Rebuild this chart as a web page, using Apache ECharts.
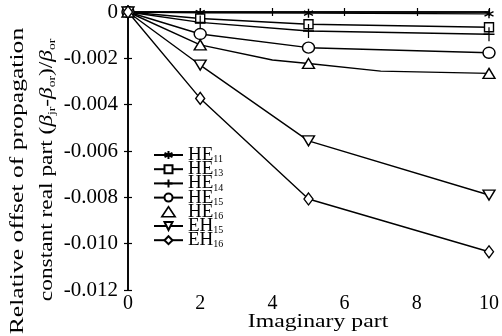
<!DOCTYPE html>
<html>
<head>
<meta charset="utf-8">
<script src="https://cdn.jsdelivr.net/npm/echarts@6/dist/echarts.min.js"></script>
<style>html,body{margin:0;padding:0;background:#fff;}#c{width:502px;height:336px;}</style>
</head>
<body>
<div id="c"></div>
<script>
// ---- data ----
var seriesNames = ['HE11', 'HE13', 'HE14', 'HE15', 'HE16', 'EH15', 'EH16'];
var xValues = [0, 2, 5, 10];
var HE11 = [0, -0.00003, -0.00005, -0.00008];
var HE13 = [0, -0.00028, -0.00053, -0.00066];
var HE14 = [0, -0.00045, -0.00082, -0.00096];
var HE15 = [0, -0.00095, -0.00154, -0.00176];
var HE16x = [0, 2, 4, 5, 7, 10];
var HE16 = [0, -0.00142, -0.00207, -0.00222, -0.00255, -0.00265];
var HE16marked = [true, true, false, true, false, true];
var EH15 = [0, -0.00229, -0.00556, -0.0079];
var EH16 = [0, -0.00373, -0.00807, -0.01035];
var xTicks = [0, 2, 4, 6, 8, 10];
var yMin = -0.012, yMax = 0, yStep = 0.002;

var FONT = '"Liberation Serif", "Times New Roman", Times, serif';
var S = {
  asterisk: 'path://M0,-5L0,5M-4.33,-2.5L4.33,2.5M-4.33,2.5L4.33,-2.5',
  rect: 'path://M-1,-1L1,-1L1,1L-1,1Z',
  plus: 'path://M0,-1L0,1M-1,0L1,0',
  circle: 'path://M-1,0A1,1 0 1,0 1,0A1,1 0 1,0 -1,0Z',
  tri: 'path://M0,-1L1,0.8L-1,0.8Z',
  dtri: 'path://M-1,-0.8L1,-0.8L0,1Z',
  diamond: 'path://M0,-1L1,0L0,1L-1,0Z'
};

function pairs(xs, ys) { return xs.map(function (x, i) { return [x, ys[i]]; }); }

function mk(name, data, symbol, size) {
  return {
    name: name, type: 'line', data: data,
    symbol: symbol, symbolSize: size, showSymbol: true,
    lineStyle: { color: '#000', width: 1.4 },
    itemStyle: { color: '#fff', borderColor: '#000', borderWidth: 1.4 },
    emphasis: { disabled: true }, animation: false, z: 3
  };
}

var he16Data = HE16x.map(function (x, i) {
  var d = { value: [x, HE16[i]] };
  if (!HE16marked[i]) d.symbol = 'none';
  return d;
});

var series = [
  mk('HE11', pairs(xValues, HE11), S.asterisk, 9),
  mk('HE13', pairs(xValues, HE13), S.rect, 9),
  mk('HE14', pairs(xValues, HE14), S.plus, [11, 14]),
  mk('HE15', pairs(xValues, HE15), S.circle, [12, 11]),
  mk('HE16', he16Data, S.tri, [12, 10]),
  mk('EH15', pairs(xValues, EH15), S.dtri, [12, 10]),
  mk('EH16', pairs(xValues, EH16), S.diamond, [9, 12])
];

var axisCommon = {
  axisLine: { show: true, lineStyle: { color: '#000', width: 1.6 } },
  axisTick: { show: true, inside: true, length: 4, lineStyle: { color: '#000', width: 1.2 } },
  splitLine: { show: false }
};

var chart = echarts.init(document.getElementById('c'), null, { renderer: 'canvas' });
chart.setOption({
  backgroundColor: '#fff',
  animation: false,
  grid: { left: 128, right: 12, top: 12, bottom: 46 },
  xAxis: [
    Object.assign({
      type: 'value', min: xTicks[0], max: xTicks[xTicks.length - 1], interval: 2, position: 'bottom',
      axisLabel: { color: '#000', fontFamily: FONT, fontSize: 20, margin: 4 }
    }, axisCommon),
    Object.assign({
      type: 'value', min: xTicks[0], max: xTicks[xTicks.length - 1], interval: 2, position: 'top',
      axisLabel: { show: false }
    }, axisCommon)
  ],
  yAxis: [
    Object.assign({
      type: 'value', min: yMin, max: yMax, interval: yStep, position: 'left',
      axisLabel: {
        color: '#000', fontFamily: FONT, fontSize: 21, margin: 10,
        formatter: function (v) { return Math.abs(v) < 1e-12 ? '0' : v.toFixed(3); }
      }
    }, axisCommon),
    Object.assign({
      type: 'value', min: yMin, max: yMax, interval: yStep, position: 'right',
      axisLabel: { show: false }
    }, axisCommon)
  ],
  legend: {
    orient: 'vertical', left: 153, top: 145, padding: 0,
    itemWidth: 29, itemHeight: 10, itemGap: -5.8,
    data: seriesNames.map(function (n) {
      if (n === 'HE16') {
        return { name: n, icon: 'path://M0,-1L1.2,0.8L-1.2,0.8Z', itemStyle: { color: '#fff', borderColor: '#000', borderWidth: 1.6 } };
      }
      return { name: n };
    }),
    formatter: function (name) { return '{a|' + name.slice(0, 2) + '}{b|' + name.slice(2) + '}'; },
    textStyle: {
      color: '#000', fontFamily: FONT, lineHeight: 20,
      rich: {
        a: { fontFamily: FONT, fontSize: 19, lineHeight: 20, color: '#000' },
        b: { fontFamily: FONT, fontSize: 10, lineHeight: 10, color: '#000', padding: [9, 0, 0, 0] }
      }
    },
    selectedMode: false
  },
  graphic: [
    {
      type: 'text', x: 318, y: 322, scaleX: 1.25,
      style: { text: 'Imaginary part', fontFamily: FONT, fontSize: 19, fill: '#000', align: 'center', verticalAlign: 'middle' }
    },
    {
      type: 'text', x: 18, y: 181, rotation: Math.PI / 2, scaleX: 1.35,
      style: { text: 'Relative offset of propagation', fontFamily: FONT, fontSize: 19, fill: '#000', align: 'center', verticalAlign: 'middle' }
    },
    {
      type: 'text', x: 47, y: 170, rotation: Math.PI / 2, scaleX: 1.23,
      style: {
        text: '{a|constant real part (}{g|β}{s|jr}{a|-}{g|β}{s|or}{a|)/}{g|β}{s|or}',
        fontFamily: FONT, fontSize: 19, fill: '#000', align: 'center', verticalAlign: 'middle',
        rich: {
          a: { fontFamily: FONT, fontSize: 19, lineHeight: 20, fill: '#000' },
          g: { fontFamily: FONT, fontSize: 19, lineHeight: 20, fontStyle: 'italic', fill: '#000' },
          s: { fontFamily: FONT, fontSize: 11, lineHeight: 20, fill: '#000', padding: [10, 0, 0, 0] }
        }
      }
    }
  ],
  series: series
});
</script>
</body>
</html>
